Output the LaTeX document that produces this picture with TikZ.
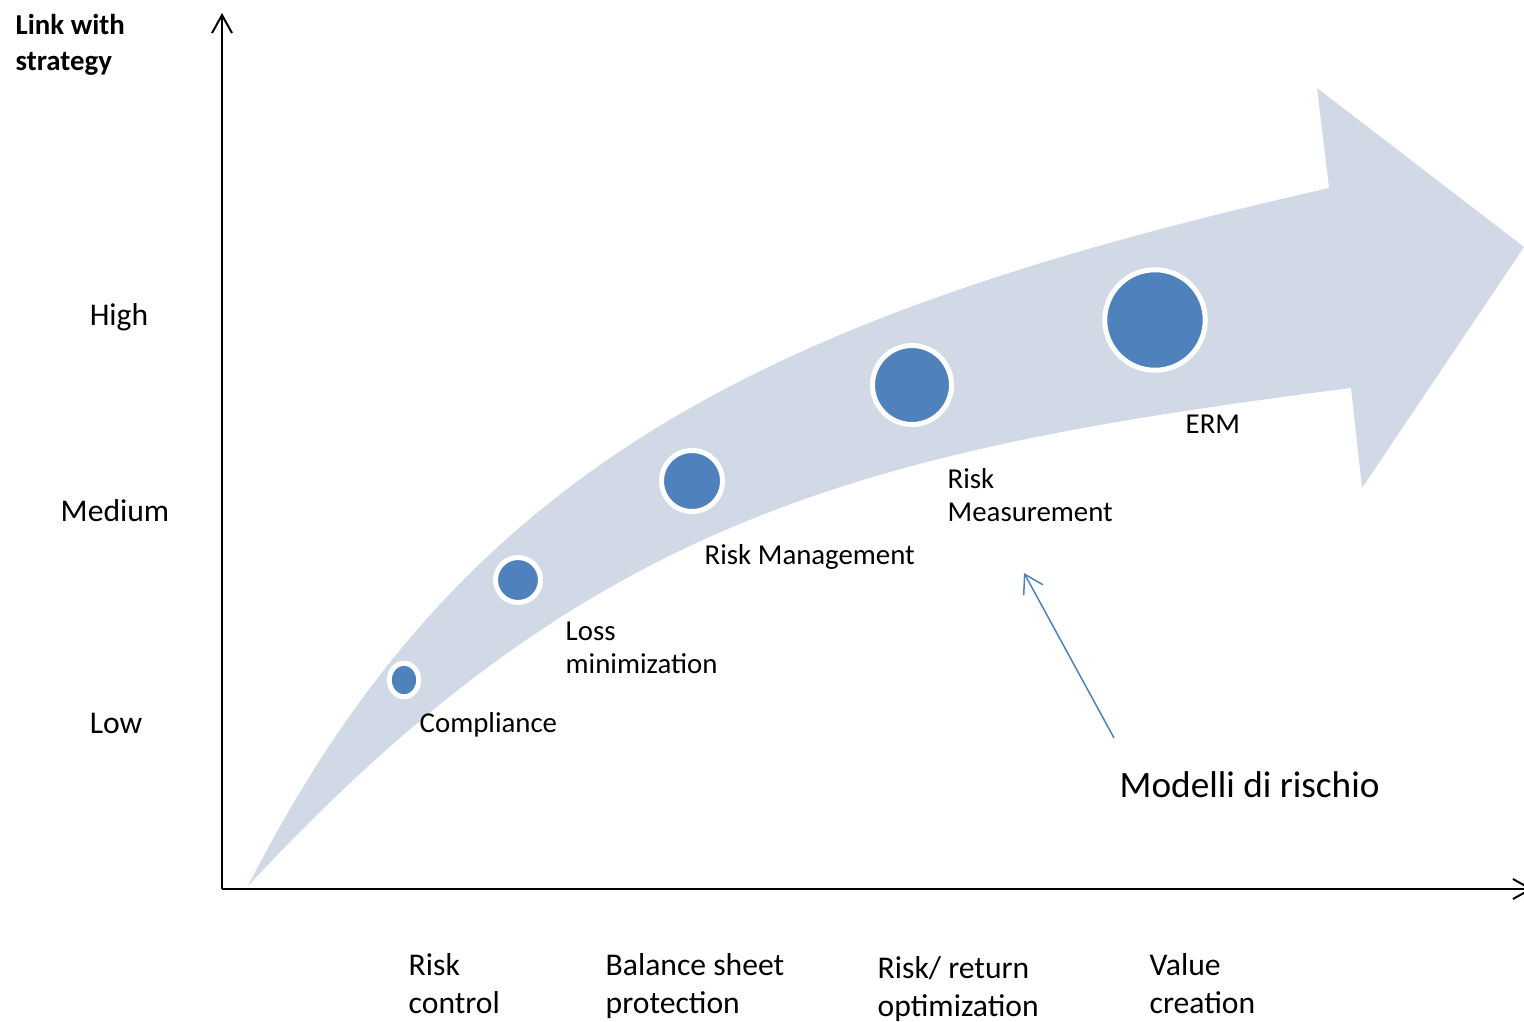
\documentclass[tikz,border=0pt]{standalone}
\usepackage{fontspec}
\setmainfont{Carlito}
\usepackage{tikz}
\usetikzlibrary{positioning, arrows.meta, shapes.geometric}
\definecolor{bandblue}{HTML}{D1D9E7}
\definecolor{dotblue}{HTML}{4F81BD}

\begin{document}
\begin{tikzpicture}[x=0.1mm, y=-0.1mm,
        axis/.style={line width=0.2mm, -{Straight Barb[length=1.8mm, width=2mm]}},
        dot/.style={ellipse, fill=dotblue, draw=white, line width=0.5mm, inner sep=0pt},
        lvl/.style={font=\fontsize{9}{10.8}\selectfont, inner sep=0pt, anchor=base},
        stage/.style={font=\fontsize{9}{10.8}\selectfont, inner sep=0pt, align=left, anchor=base west},
        tag/.style={font=\fontsize{8.2}{9.2}\selectfont, inner sep=0pt, align=left, anchor=base west}]
        \useasboundingbox (0,0) rectangle (1524,1021);

        % band arrow
        \fill[bandblue] (248,886) .. controls (461,467) and (764,316) .. (1329,188)
            -- (1317,88) -- (1524,247) -- (1362,488) -- (1351,388)
            .. controls (855,451) and (588,520) .. (248,886) -- cycle;

        % axes
        \coordinate (O) at (222,889);
        \coordinate (ytop) at (222,13);
        \coordinate (xend) at (1533,889);
        \draw[axis] (O) -- (ytop);
        \draw[axis] (O) -- (xend);

        % multi-line nodes sit on the baseline of their last line
        \node[font=\fontsize{8.2}{10}\selectfont\bfseries, inner sep=0pt, align=left, anchor=base west](title) at (15,70) {Link with\\strategy};
        \node[lvl](high) at (119,325) {High};
        \node[lvl](medium) at (115,521) {Medium};
        \node[lvl](low) at (116,733) {Low};

        \node[stage](control) at (408,1013) {Risk\\control};
        \node[stage](balance) at (605,1013) {Balance sheet\\protection};
        \node[stage](optim) at (877,1016) {Risk/ return\\optimization};
        \node[stage](value) at (1149,1013) {Value\\creation};

        % stages on the band
        \node[dot, minimum width=2.95mm, minimum height=3.35mm](c1) at (404,680) {};
        \node[dot, minimum size=4.5mm](c2) at (518,580) {};
        \node[dot, minimum size=6.1mm](c3) at (692,481) {};
        \node[dot, minimum size=7.9mm](c4) at (912,385) {};
        \node[dot, minimum size=10.05mm](c5) at (1155,320) {};

        \node[tag](compliance) at (419,732) {Compliance};
        \node[tag](loss) at (565,673) {Loss\\minimization};
        \node[tag](riskman) at (704,564) {Risk Management};
        \node[tag](riskmeas) at (947,521) {Risk\\Measurement};
        \node[tag](erm) at (1185,433) {ERM};

        \node[font=\fontsize{10.6}{12.7}\selectfont, inner sep=0pt, anchor=base west](models) at (1119,797) {Modelli di rischio};
        \coordinate (mfoot) at (1114,738);
        \coordinate (mhead) at (1024,573);
        \draw[dotblue, line width=0.15mm, -{Straight Barb[length=1.8mm, width=2.2mm]}] (mfoot) -- (mhead);
\end{tikzpicture}
\end{document}
